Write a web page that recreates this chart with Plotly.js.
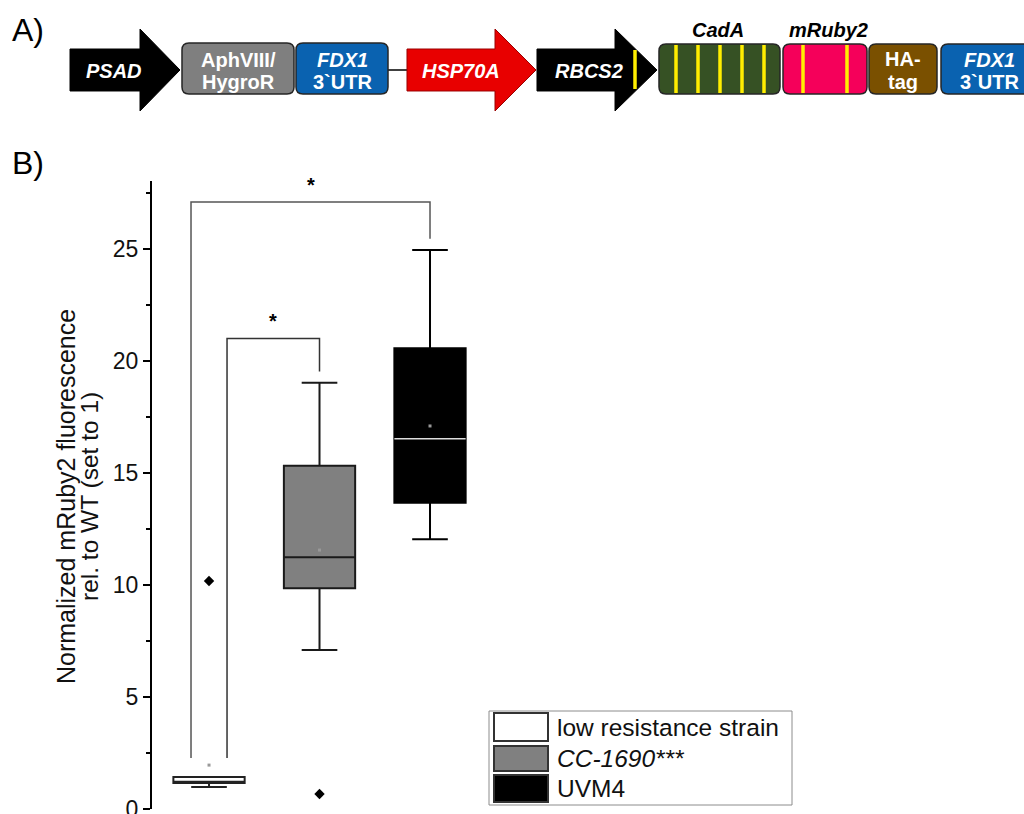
<!DOCTYPE html>
<html>
<head>
<meta charset="utf-8">
<script src="https://cdn.plot.ly/plotly-3.0.1.min.js"></script>
<style>
  html, body { margin: 0; padding: 0; background: #fff; }
  #chart { width: 1024px; height: 814px; }
</style>
</head>
<body>
<div id="chart"></div>
<script>
// ---------------- data ----------------
const strains      = ['low resistance strain', 'CC-1690***', 'UVM4'];
const positions    = [1, 2, 3];
const lowerFence   = [0.98, 7.10, 12.04];
const q1Values     = [1.16, 9.85, 13.67];
const medianValues = [1.22, 11.24, 16.53];
const q3Values     = [1.43, 15.32, 20.57];
const upperFence   = [1.43, 19.03, 24.96];
const meanValues   = [1.96, 11.56, 17.10];
const outlierX     = [1, 2];
const outlierY     = [10.18, 0.67];
// significance comparisons: [group a, group b] and bracket heights
const sigPairs     = [[1, 3], [1, 2]];
const sigHeights   = [27.1, 21.0];
const sigLabels    = ['*', '*'];
const yTickValues  = [0, 5, 10, 15, 20, 25];
const yTitleLines  = ['Normalized mRuby2 fluorescence', 'rel. to WT (set to 1)'];

// ---------------- styles ----------------
const W = 1024, H = 814;
const FONT = 'Liberation Sans, Arial, sans-serif';
const fills = ['#ffffff', '#808080', '#000000'];
const lines = ['#222222', '#1a1a1a', '#000000'];
const boxWidth = 0.645;

function P(x, y) { return (x / W).toFixed(5) + ',' + (1 - y / H).toFixed(5); }

const traces = [];
for (let i = 0; i < strains.length; i++) {
  traces.push({
    type: 'box',
    name: strains[i],
    x: [positions[i]],
    q1: [q1Values[i]],
    median: [medianValues[i]],
    q3: [q3Values[i]],
    lowerfence: [lowerFence[i]],
    upperfence: [upperFence[i]],
    boxpoints: false,
    width: boxWidth,
    whiskerwidth: 0.5,
    fillcolor: fills[i],
    line: { color: lines[i], width: 2 },
    showlegend: false,
    hoverinfo: 'skip'
  });
}
// white median line on the black box
traces.push({
  type: 'scatter', mode: 'lines',
  x: [positions[2] - boxWidth / 2, positions[2] + boxWidth / 2],
  y: [medianValues[2], medianValues[2]],
  line: { color: '#dddddd', width: 1.5 },
  showlegend: false, hoverinfo: 'skip'
});
// mean markers
traces.push({
  type: 'scatter', mode: 'markers',
  x: positions, y: meanValues,
  marker: { symbol: 'square', size: 3, color: '#999999' },
  showlegend: false, hoverinfo: 'skip'
});
// outliers
traces.push({
  type: 'scatter', mode: 'markers',
  x: outlierX, y: outlierY,
  marker: { symbol: 'diamond', size: 8, color: '#000000' },
  showlegend: false, hoverinfo: 'skip'
});

const shapes = [];
const annotations = [];

// significance brackets (data coords)
const bracketColors = ['#555555', '#333333'];
const leftOffsets = [-0.163, 0.163];
for (let k = 0; k < sigPairs.length; k++) {
  const a = sigPairs[k][0], b = sigPairs[k][1];
  const xa = a + leftOffsets[k];
  const yTopB = upperFence[b - 1] + 0.5;
  const yBotA = 2.28;
  const hgt = sigHeights[k];
  shapes.push({
    type: 'path', xref: 'x', yref: 'y',
    path: `M ${xa},${yBotA} L ${xa},${hgt} L ${b},${hgt} L ${b},${yTopB}`,
    line: { color: bracketColors[k], width: 1.5 }
  });
  annotations.push({
    xref: 'x', yref: 'y', x: (xa + b) / 2, y: hgt + 0.2,
    text: '<b>' + sigLabels[k] + '</b>', showarrow: false, yanchor: 'bottom',
    font: { family: FONT, size: 20, color: '#000' }
  });
}

// ---------------- construct diagram (A) ----------------
function arrowPath(x0, xh, xt, yc, bh, hh) {
  return 'M ' + P(x0, yc - bh) + ' L ' + P(xh, yc - bh) + ' L ' + P(xh, yc - hh) +
         ' L ' + P(xt, yc) + ' L ' + P(xh, yc + hh) + ' L ' + P(xh, yc + bh) +
         ' L ' + P(x0, yc + bh) + ' Z';
}
function rrectPath(x0, y0, x1, y1, r) {
  return 'M ' + P(x0 + r, y0) + ' L ' + P(x1 - r, y0) + ' Q ' + P(x1, y0) + ' ' + P(x1, y0 + r) +
         ' L ' + P(x1, y1 - r) + ' Q ' + P(x1, y1) + ' ' + P(x1 - r, y1) +
         ' L ' + P(x0 + r, y1) + ' Q ' + P(x0, y1) + ' ' + P(x0, y1 - r) +
         ' L ' + P(x0, y0 + r) + ' Q ' + P(x0, y0) + ' ' + P(x0 + r, y0) + ' Z';
}
function paperShape(path, fill, lineColor, lw) {
  shapes.push({ type: 'path', xref: 'paper', yref: 'paper', path: path,
    fillcolor: fill, line: { color: lineColor, width: lw } });
}
function stripe(x, y0, y1) {
  shapes.push({ type: 'line', xref: 'paper', yref: 'paper',
    x0: x / W, x1: x / W, y0: 1 - y0 / H, y1: 1 - y1 / H,
    line: { color: '#ffee00', width: 3.5 } });
}
function label(x, y, text, size, color, anchor, angle) {
  annotations.push({ xref: 'paper', yref: 'paper', x: x / W, y: 1 - y / H,
    text: text, showarrow: false, xanchor: anchor || 'center', yanchor: 'middle',
    textangle: angle || 0,
    font: { family: FONT, size: size, color: color } });
}

// connector line
shapes.push({ type: 'line', xref: 'paper', yref: 'paper',
  x0: 388 / W, x1: 407 / W, y0: 1 - 70 / H, y1: 1 - 70 / H,
  line: { color: '#000', width: 1.5 } });

paperShape(arrowPath(70, 140, 180, 70, 21, 41), '#000000', '#000000', 1);
paperShape(rrectPath(182, 43, 294, 94, 7), '#7f7f7f', '#262626', 1.5);
paperShape(rrectPath(296, 43, 388, 94, 7), '#0a62b0', '#262626', 1.5);
paperShape(arrowPath(407, 495, 536, 70, 21, 41), '#e80000', '#9a0000', 1);
paperShape(arrowPath(537, 615, 657, 70, 21, 41), '#000000', '#000000', 1);
stripe(635, 50, 89);
paperShape(rrectPath(659, 44, 780, 94, 7), '#365124', '#262626', 1.5);
[676, 698, 720, 742, 764].forEach(x => stripe(x, 45, 93));
paperShape(rrectPath(783, 44, 867, 94, 7), '#f5005a', '#262626', 1.5);
[803, 847].forEach(x => stripe(x, 45, 93));
paperShape(rrectPath(869, 44, 937, 94, 7), '#7a5000', '#262626', 1.5);
paperShape(rrectPath(941, 44, 1032, 94, 7), '#0a62b0', '#262626', 1.5);

const DS = 20;
label(114, 71, '<b><i>PSAD</i></b>', DS, '#fff');
label(238, 60, '<b>AphVIII/</b>', DS, '#fff');
label(238, 82, '<b>HygroR</b>', DS, '#fff');
label(342, 60, '<b><i>FDX1</i></b>', DS, '#fff');
label(342, 82, '<b>3`UTR</b>', DS, '#fff');
label(461, 71, '<b><i>HSP70A</i></b>', DS, '#fff');
label(589, 71, '<b><i>RBCS2</i></b>', DS, '#fff');
label(718, 30, '<b><i>CadA</i></b>', DS, '#000');
label(828, 30, '<b><i>mRuby2</i></b>', DS, '#000');
label(903, 59, '<b>HA-</b>', DS, '#fff');
label(903, 82, '<b>tag</b>', DS, '#fff');
label(989, 60, '<b><i>FDX1</i></b>', DS, '#fff');
label(989, 82, '<b>3`UTR</b>', DS, '#fff');

label(28, 30, 'A)', 32, '#000');
label(28, 163, 'B)', 32, '#000');

// y-axis title (two tightly spaced lines)
label(66, 497, yTitleLines[0], 25, '#111', 'center', -90);
label(89, 497, yTitleLines[1], 24.5, '#111', 'center', -90);

// ---------------- legend (manual) ----------------
shapes.push({ type: 'rect', xref: 'paper', yref: 'paper',
  x0: 489 / W, x1: 792 / W, y0: 1 - 711 / H, y1: 1 - 805 / H,
  line: { color: '#8c8c8c', width: 1 }, fillcolor: 'rgba(0,0,0,0)' });
const legRows = [[713, 741], [746, 771], [775, 802]];
const legTexts = [strains[0], '<i>' + strains[1] + '</i>', strains[2]];
for (let i = 0; i < 3; i++) {
  shapes.push({ type: 'rect', xref: 'paper', yref: 'paper',
    x0: 494 / W, x1: 548 / W, y0: 1 - legRows[i][0] / H, y1: 1 - legRows[i][1] / H,
    fillcolor: fills[i], line: { color: '#333333', width: 2 } });
  label(555, (legRows[i][0] + legRows[i][1]) / 2, legTexts[i], 24.5, '#111', 'left');
}

// ---------------- layout ----------------
const layout = {
  width: W, height: H,
  margin: { l: 0, r: 0, t: 0, b: 0 },
  paper_bgcolor: '#fff', plot_bgcolor: 'rgba(0,0,0,0)',
  font: { family: FONT, size: 22, color: '#111' },
  showlegend: false,
  xaxis: {
    domain: [152 / W, 1010 / W],
    range: [0.484, 8.249],
    visible: false, fixedrange: true
  },
  yaxis: {
    domain: [5 / H, 1 - 180.7 / H],
    range: [0, 28.05],
    tickvals: yTickValues,
    ticks: 'outside', ticklen: 7, tickwidth: 2, tickcolor: '#000',
    ticklabeloverflow: 'allow',
    showline: true, linecolor: '#000', linewidth: 2,
    showgrid: false, zeroline: false,
    tickfont: { family: FONT, size: 23, color: '#111' },
    minor: { dtick: 2.5, tick0: 0, ticks: 'outside', ticklen: 4, tickwidth: 1.5, tickcolor: '#000', showgrid: false },
    automargin: false, fixedrange: true
  },
  shapes: shapes,
  annotations: annotations
};

Plotly.newPlot('chart', traces, layout, { displayModeBar: false, staticPlot: true });
</script>
</body>
</html>
